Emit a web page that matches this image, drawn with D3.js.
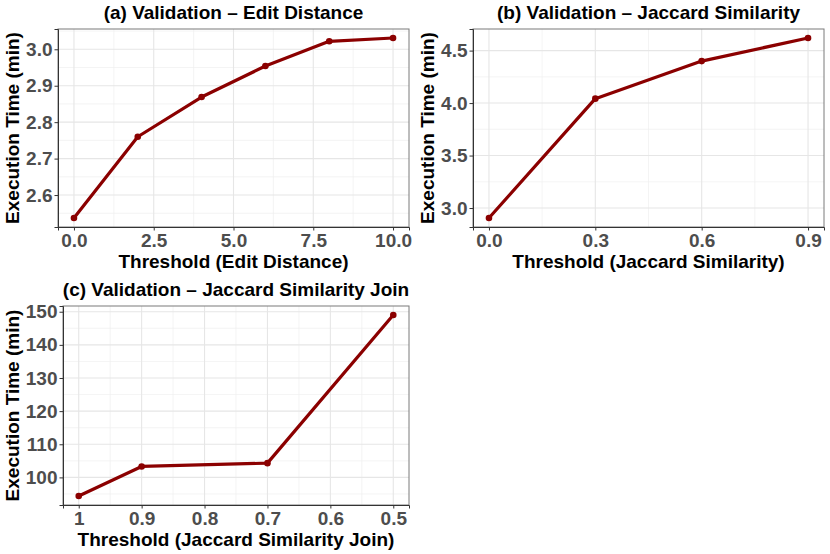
<!DOCTYPE html>
<html>
<head>
<meta charset="utf-8">
<script src="https://cdn.jsdelivr.net/npm/d3@7"></script>
<style>
  body { margin: 0; background: #fff; }
  svg { font-family: "Liberation Sans", Arial, sans-serif; }
  .tick text { fill: #4d4d4d; font-weight: bold; font-size: 19px; }
  .tick line { stroke: #333; }
  .title, .label { font-weight: bold; fill: #000; font-size: 19px; }
</style>
</head>
<body>
<svg width="830" height="554"></svg>
<script>
// (a) edit distance
var edThresholds = [0, 2, 4, 6, 8, 10];
var edTimes = [2.537, 2.760, 2.869, 2.954, 3.022, 3.031];
var edXTicks = [0, 2.5, 5, 7.5, 10];
var edXLabels = ['0.0', '2.5', '5.0', '7.5', '10.0'];
var edYTicks = [2.6, 2.7, 2.8, 2.9, 3.0];
var edYLabels = ['2.6', '2.7', '2.8', '2.9', '3.0'];

// (b) jaccard similarity
var jsThresholds = [0, 0.3, 0.6, 0.9];
var jsTimes = [2.905, 4.042, 4.40, 4.62];
var jsXTicks = [0, 0.3, 0.6, 0.9];
var jsXLabels = ['0.0', '0.3', '0.6', '0.9'];
var jsYTicks = [3.0, 3.5, 4.0, 4.5];
var jsYLabels = ['3.0', '3.5', '4.0', '4.5'];

// (c) jaccard similarity join (x runs backwards)
var jjThresholds = [1, 0.9, 0.7, 0.5];
var jjTimes = [94.4, 103.3, 104.3, 149.0];
var jjXTicks = [1, 0.9, 0.8, 0.7, 0.6, 0.5];
var jjXLabels = ['1', '0.9', '0.8', '0.7', '0.6', '0.5'];
var jjYTicks = [100, 110, 120, 130, 140, 150];
var jjYLabels = ['100', '110', '120', '130', '140', '150'];

var svg = d3.select('svg');

// ggplot style 5% padding
function padded(vals) {
    var ext = d3.extent(vals), pad = (ext[1] - ext[0]) * 0.05;
    return [ext[0] - pad, ext[1] + pad];
}

// halfway points between major ticks, kept inside the domain
function minors(ticks, dom) {
    var step = ticks[1] - ticks[0], out = [];
    var lo = Math.min(dom[0], dom[1]), hi = Math.max(dom[0], dom[1]);
    for (var i = -1; i < ticks.length; i++) {
        var v = ticks[0] + step * (i + 0.5);
        if (v > lo && v < hi) out.push(v);
    }
    return out;
}

function drawPanel(p) {
    var g = svg.append('g');
    var xDom = padded(p.xs);
    if (p.reverse) xDom = [xDom[1], xDom[0]];
    var x = d3.scaleLinear().domain(xDom).range([p.left, p.right]);
    var y = d3.scaleLinear().domain(padded(p.ys)).range([p.bottom, p.top]);

    // grid
    var grid = g.append('g');
    grid.selectAll('.xmin').data(minors(p.xTicks, xDom)).enter().append('line')
        .attr('x1', x).attr('x2', x).attr('y1', p.top).attr('y2', p.bottom)
        .attr('stroke', '#efefef').attr('stroke-width', 0.7);
    grid.selectAll('.ymin').data(minors(p.yTicks, y.domain())).enter().append('line')
        .attr('y1', y).attr('y2', y).attr('x1', p.left).attr('x2', p.right)
        .attr('stroke', '#efefef').attr('stroke-width', 0.7);
    grid.selectAll('.xmaj').data(p.xTicks).enter().append('line')
        .attr('x1', x).attr('x2', x).attr('y1', p.top).attr('y2', p.bottom)
        .attr('stroke', '#e6e6e6').attr('stroke-width', 1.1);
    grid.selectAll('.ymaj').data(p.yTicks).enter().append('line')
        .attr('y1', y).attr('y2', y).attr('x1', p.left).attr('x2', p.right)
        .attr('stroke', '#e6e6e6').attr('stroke-width', 1.1);

    // border
    g.append('rect')
        .attr('x', p.left).attr('y', p.top)
        .attr('width', p.right - p.left).attr('height', p.bottom - p.top)
        .attr('fill', 'none').attr('stroke', '#7a7a7a').attr('stroke-width', 1);

    var pts = p.xs.map(function(v, i) { return [v, p.ys[i]]; });
    g.append('path')
        .datum(pts)
        .attr('d', d3.line().x(function(d) { return x(d[0]); }).y(function(d) { return y(d[1]); }))
        .attr('fill', 'none').attr('stroke', '#8b0000').attr('stroke-width', 3.2)
        .attr('stroke-linejoin', 'round');
    g.selectAll('circle').data(pts).enter().append('circle')
        .attr('cx', function(d) { return x(d[0]); })
        .attr('cy', function(d) { return y(d[1]); })
        .attr('r', 3.3).attr('fill', '#8b0000');

    var xAxis = d3.axisBottom(x).tickValues(p.xTicks).tickSize(3.5).tickPadding(3)
        .tickFormat(function(d, i) { return p.xLabels[i]; });
    g.append('g').attr('transform', 'translate(0,' + p.bottom + ')').call(xAxis)
        .call(function(a) { a.select('.domain').attr('stroke', '#333'); });

    var yAxis = d3.axisLeft(y).tickValues(p.yTicks).tickSize(3.5).tickPadding(2)
        .tickFormat(function(d, i) { return p.yLabels[i]; });
    g.append('g').attr('transform', 'translate(' + p.left + ',0)').call(yAxis)
        .call(function(a) { a.select('.domain').attr('stroke', '#333'); });

    g.selectAll('.tick text').attr('font-family', null).attr('font-size', null);

    var mid = (p.left + p.right) / 2;
    g.append('text').attr('class', 'title')
        .attr('x', mid).attr('y', p.top - 10)
        .attr('text-anchor', 'middle')
        .text(p.title);
    g.append('text').attr('class', 'label')
        .attr('x', mid).attr('y', p.bottom + 41)
        .attr('text-anchor', 'middle')
        .text(p.xTitle);
    g.append('text').attr('class', 'label')
        .attr('transform', 'translate(' + p.yTitleX + ',' + (p.top + p.bottom) / 2 + ')rotate(-90)')
        .attr('text-anchor', 'middle')
        .text('Execution Time (min)');
}

drawPanel({
    xs: edThresholds, ys: edTimes,
    xTicks: edXTicks, xLabels: edXLabels, yTicks: edYTicks, yLabels: edYLabels,
    left: 58, right: 409, top: 29, bottom: 227, yTitleX: 19,
    title: '(a) Validation \u2013 Edit Distance', xTitle: 'Threshold (Edit Distance)'
});
drawPanel({
    xs: jsThresholds, ys: jsTimes,
    xTicks: jsXTicks, xLabels: jsXLabels, yTicks: jsYTicks, yLabels: jsYLabels,
    left: 473, right: 824, top: 29, bottom: 227, yTitleX: 434,
    title: '(b) Validation \u2013 Jaccard Similarity', xTitle: 'Threshold (Jaccard Similarity)'
});
drawPanel({
    xs: jjThresholds, ys: jjTimes, reverse: true,
    xTicks: jjXTicks, xLabels: jjXLabels, yTicks: jjYTicks, yLabels: jjYLabels,
    left: 63, right: 409, top: 306, bottom: 505, yTitleX: 19,
    title: '(c) Validation \u2013 Jaccard Similarity Join', xTitle: 'Threshold (Jaccard Similarity Join)'
});
</script>
</body>
</html>
